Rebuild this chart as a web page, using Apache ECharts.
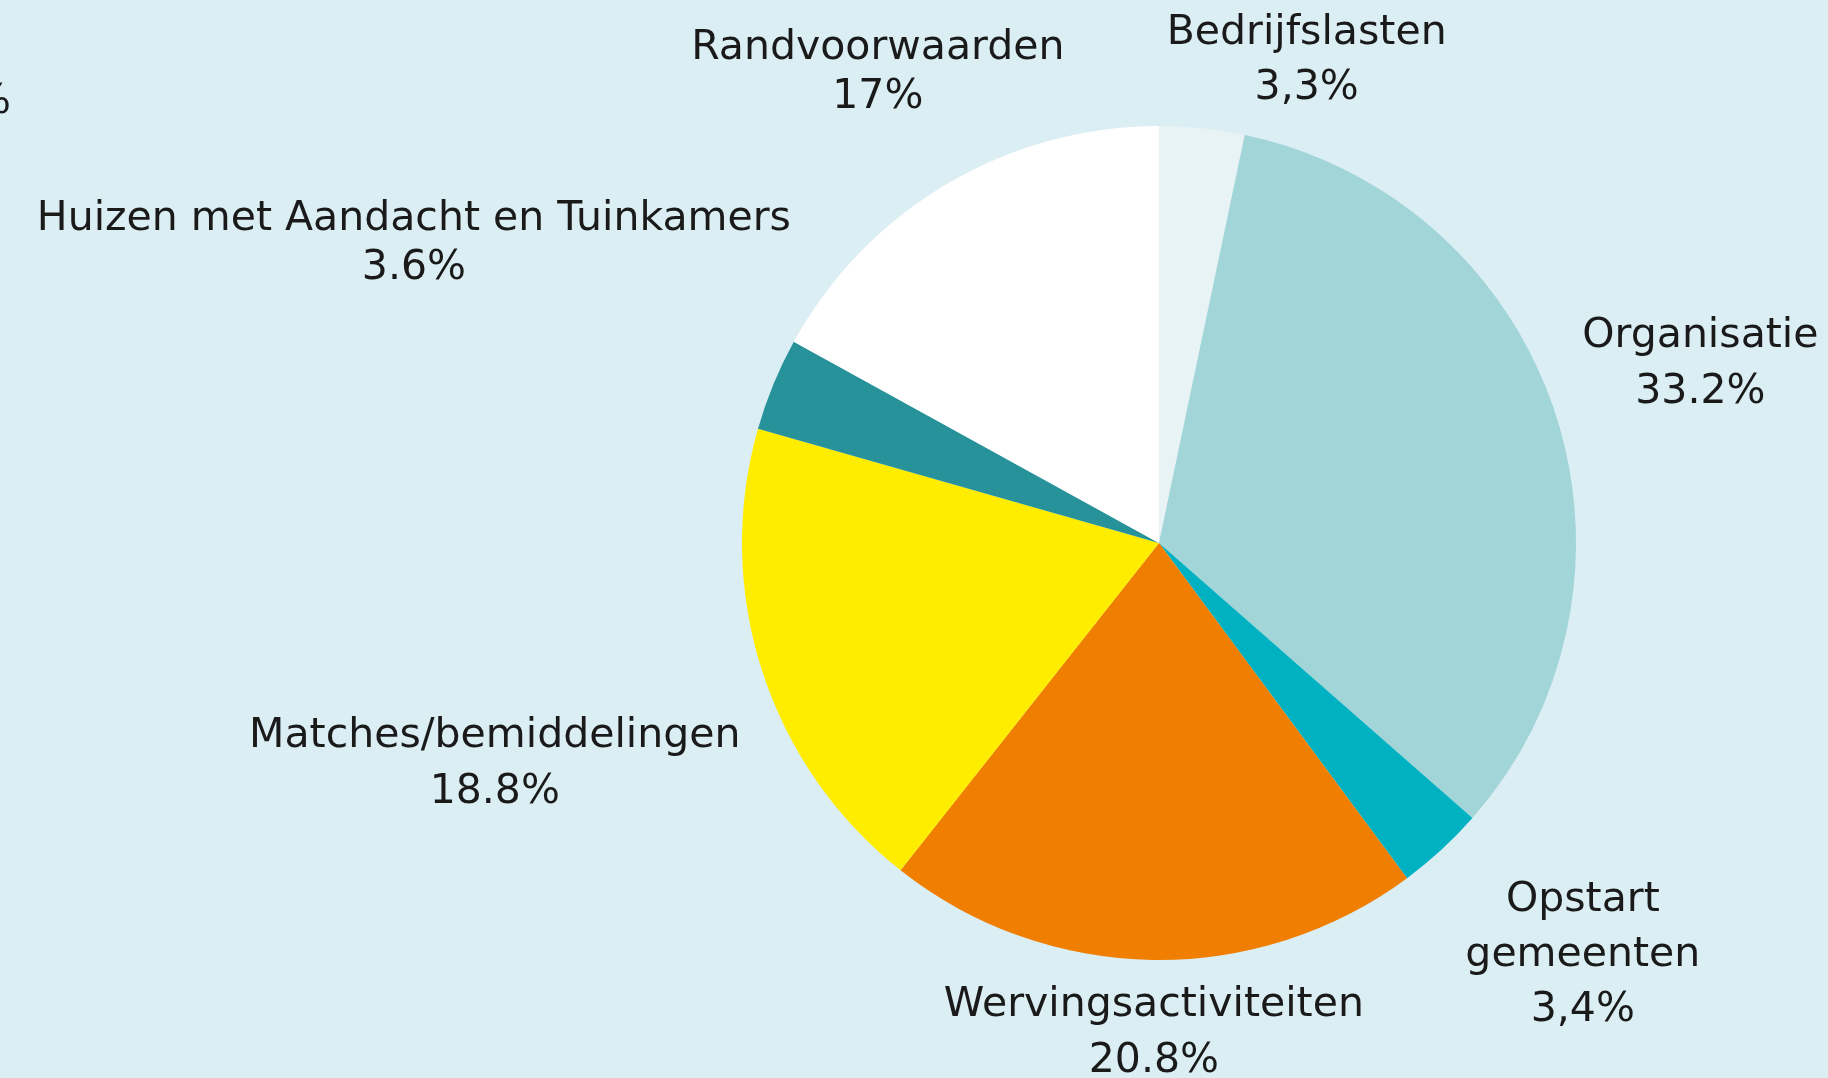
<!DOCTYPE html>
<html>
<head>
<meta charset="utf-8">
<script src="https://cdn.jsdelivr.net/npm/echarts@6/dist/echarts.min.js"></script>
<style>
html,body{margin:0;padding:0;background:#dbeef4;}
#chart{width:1828px;height:1078px;}
</style>
</head>
<body>
<div id="chart"></div>
<script>
// Data
const categories = ['Bedrijfslasten', 'Organisatie', 'Opstart\ngemeenten', 'Wervingsactiviteiten', 'Matches/bemiddelingen', 'Huizen met Aandacht en Tuinkamers', 'Randvoorwaarden'];
const values = [3.3, 33.2, 3.4, 20.8, 18.8, 3.6, 17];
const valueLabels = ['3,3%', '33.2%', '3,4%', '20.8%', '18.8%', '3.6%', '17%'];

// Styling / layout
const colors = ['#e8f3f5', '#a1d5d8', '#00b2c1', '#f07e00', '#ffed00', '#28929b', '#ffffff'];
const labelDist = [504, 570, 591, 490, 700, 803, 548];
const labelAngleNudge = [11.1, 0.2, -3.2, -0.3, -0.5, -0.5, -0.3];
const labelLineHeights = [55, 56, 55, 56, 56, 49, 49];

const CX = 1159, CY = 543, R = 417;
const total = values.reduce((a, b) => a + b, 0);
const midAngles = [];
(function () {
  let cum = 0;
  values.forEach(v => { midAngles.push((cum + v / 2) / total * 360); cum += v; });
})();

const chart = echarts.init(document.getElementById('chart'));
chart.setOption({
  backgroundColor: '#dbeef4',
  animation: false,
  textStyle: { fontFamily: 'DejaVu Sans' },
  graphic: [{
    type: 'text',
    left: -28,
    top: 82,
    style: { text: '%', fontSize: 41, fontFamily: 'DejaVu Sans', fill: '#1a1a1a' }
  }],
  series: [{
    type: 'pie',
    center: [CX, CY],
    radius: R,
    startAngle: 90,
    clockwise: true,
    avoidLabelOverlap: false,
    emphasis: { disabled: true },
    labelLine: { show: false },
    label: {
      show: true,
      position: 'outside',
      color: '#1a1a1a',
      fontSize: 41,
      fontFamily: 'DejaVu Sans',
      align: 'center',
      formatter: p => categories[p.dataIndex] + '\n' + valueLabels[p.dataIndex]
    },
    labelLayout: function (params) {
      const i = params.dataIndex;
      const a = (midAngles[i] + labelAngleNudge[i]) * Math.PI / 180;
      return {
        x: CX + labelDist[i] * Math.sin(a),
        y: CY - labelDist[i] * Math.cos(a),
        align: 'center',
        verticalAlign: 'middle'
      };
    },
    data: values.map((v, i) => ({
      name: categories[i],
      value: v,
      itemStyle: { color: colors[i] },
      label: { lineHeight: labelLineHeights[i] }
    }))
  }]
});
</script>
</body>
</html>
